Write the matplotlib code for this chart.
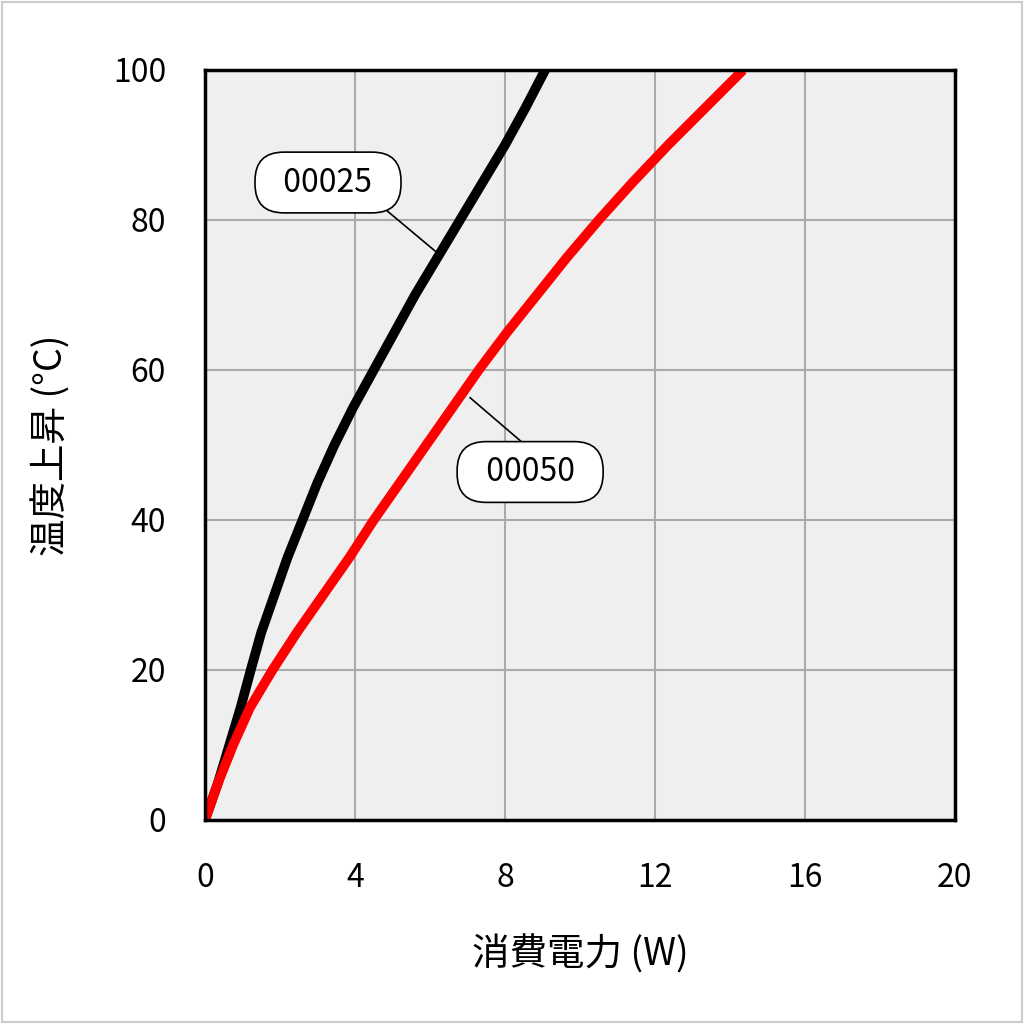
import matplotlib
matplotlib.use("Agg")
import matplotlib.pyplot as plt
from matplotlib.patches import Rectangle

plt.rcParams['font.family'] = ['Noto Sans CJK JP', 'DejaVu Sans']

y_levels = [0, 5, 10, 15, 20, 25, 30, 35, 40, 45, 50, 55, 60, 65, 70, 75, 80, 85, 90, 95, 100]
x_black = [0, 0.35, 0.65, 0.95, 1.22, 1.5, 1.85, 2.2, 2.6, 3.0, 3.45, 3.95, 4.5, 5.05, 5.6,
           6.2, 6.8, 7.4, 8.0, 8.55, 9.07]
x_red = [0, 0.35, 0.75, 1.2, 1.8, 2.45, 3.15, 3.85, 4.5, 5.2, 5.9, 6.6, 7.3, 8.05, 8.85,
         9.65, 10.5, 11.4, 12.35, 13.35, 14.35]

fig = plt.figure(figsize=(10.24, 10.24), dpi=100)
fig.patches.append(Rectangle((0.002, 0.002), 0.996, 0.996, transform=fig.transFigure,
                             fill=False, edgecolor='#cccccc', lw=1.5))
ax = fig.add_axes([205/1024, 1-820/1024, 750/1024, 750/1024])
ax.set_facecolor('#efefef')
ax.set_xlim(0, 20)
ax.set_ylim(0, 100)
ax.set_xticks([0, 4, 8, 12, 16, 20])
ax.set_yticks([0, 20, 40, 60, 80, 100])
ax.grid(True, color='#aaaaaa', lw=1.5)
ax.set_axisbelow(True)
for s in ax.spines.values():
    s.set_linewidth(2.5)
ax.tick_params(length=0, labelsize=23)
ax.tick_params(axis='x', pad=30)
ax.tick_params(axis='y', pad=28)

ax.plot(x_black, y_levels, color='black', lw=7, solid_capstyle='butt')
ax.plot(x_red, y_levels, color='#ff0000', lw=7, solid_capstyle='butt')

ax.plot([4.67, 6.27], [82, 75.3], color='black', lw=1.2)
ax.plot([7.07, 8.61], [56.3, 49.7], color='black', lw=1.2)
bb = dict(boxstyle='round,pad=0.45,rounding_size=0.9', fc='white', ec='black', lw=1.2)
ax.text(3.28, 85, '  00025  ', ha='center', va='center', fontsize=23, bbox=bb)
ax.text(8.67, 46.4, '  00050  ', ha='center', va='center', fontsize=23, bbox=bb)

ax.set_xlabel('消費電力 (W)', fontsize=27, labelpad=30)
ax.set_ylabel('温度上昇 (°C)', fontsize=27, labelpad=30)
fig.savefig('out.png', dpi=100, facecolor='white')
